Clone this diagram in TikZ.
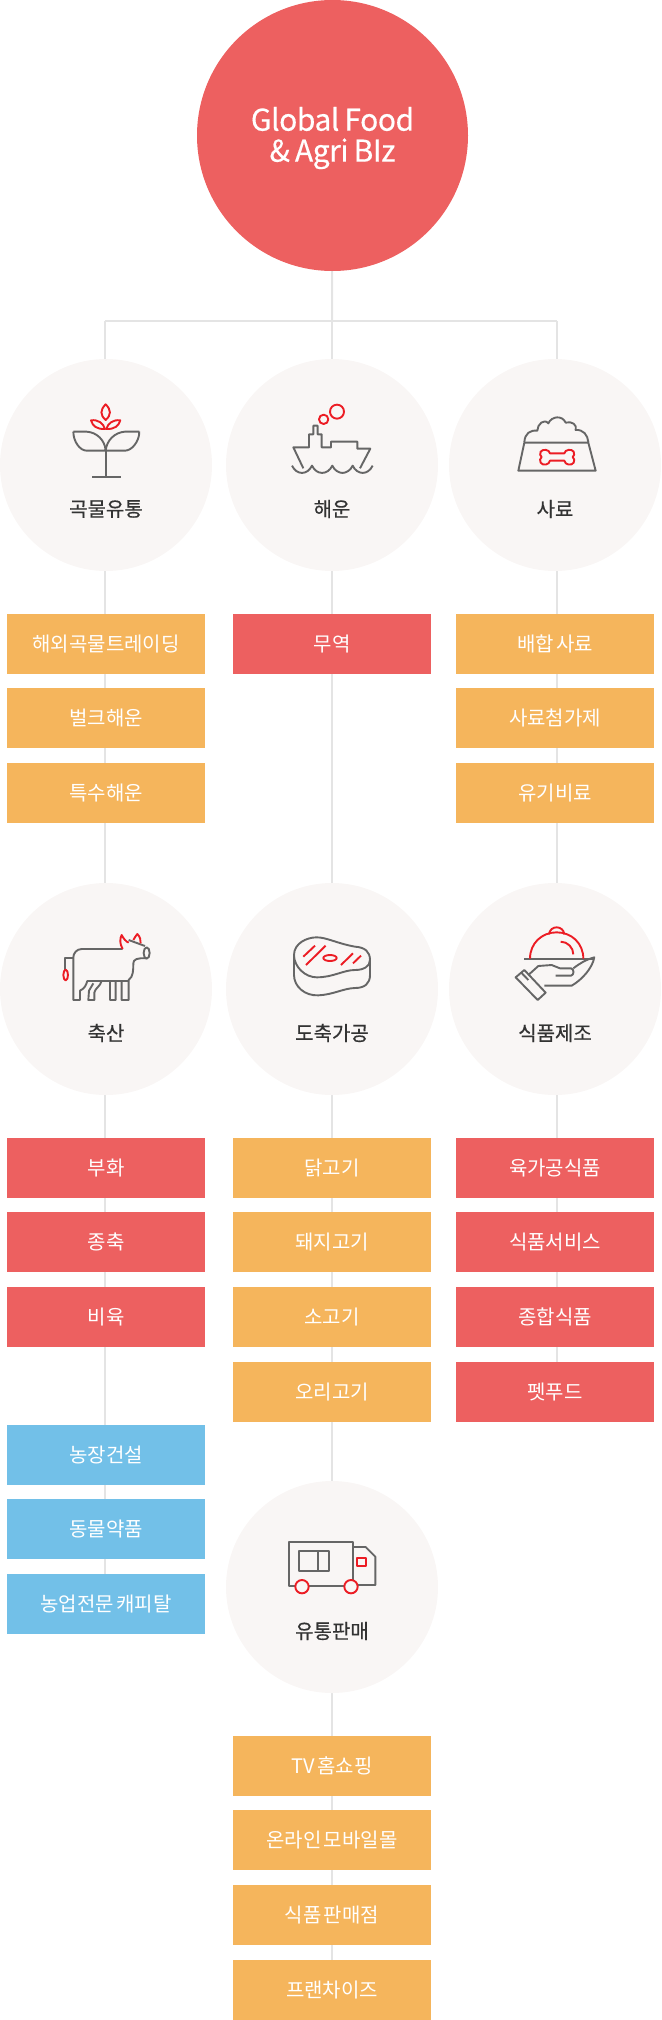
\documentclass[tikz,border=0pt]{standalone}
\usepackage{fontspec}
\setmainfont[WordSpace=0.5]{Noto Sans CJK KR}
\newfontfamily\labfont[FakeBold=0.5]{Noto Sans CJK KR}
\newfontfamily\rootfont[FakeBold=0.4, LetterSpace=-1.5, WordSpace=0.8]{Noto Sans CJK KR}
\usetikzlibrary{backgrounds}
\definecolor{redbox}{HTML}{ED6060}
\definecolor{orgbox}{HTML}{F5B55C}
\definecolor{blubox}{HTML}{72C0E8}
\definecolor{disc}{HTML}{F9F6F5}
\definecolor{wire}{HTML}{E4E4E4}
\definecolor{icogray}{HTML}{666666}
\definecolor{icored}{HTML}{EC1C24}
\tikzset{
  item/.style={minimum width=198pt, minimum height=60pt, inner sep=0pt, text=white, font=\fontsize{20}{20}\selectfont},
  disk/.style={circle, fill=disc, minimum size=212pt, inner sep=0pt},
  lab/.style={inner sep=0pt, text=black!80, font=\fontsize{20}{20}\selectfont\labfont},
  link/.style={wire, line width=2pt},
  ico/.style={icogray, line width=1.9pt, line join=round},
  icr/.style={icored, line width=1.9pt, line join=round},
  zoomed/.style={shift={#1}, x=0.3333pt, y=-0.3333pt}
}
\begin{document}
\begin{tikzpicture}[x=1pt, y=-1pt]
  \useasboundingbox (0,0) rectangle (661,2020);
  % root
  \node[circle, fill=redbox, minimum size=271pt, inner sep=0pt] (root) at (332.5,135.5) {};
  \node[inner sep=0pt, text=white, align=center, font=\fontsize{30}{31}\selectfont\rootfont] (rootlab) at (332.5,138) {Global Food\\\& Agri BIz};
  % six group discs with their labels
  \foreach \n/\x/\y/\t in {crop/106/465/곡물유통, ship/332/465/해운, feed/555/465/사료,
      stock/106/989/축산, meat/332/989/도축가공, food/555/989/식품제조, sale/332/1587/유통판매} {
    \node[disk] (\n) at (\x,\y) {};
    \node[lab] (\n lab) at (\x,\y+44) {\t};
  }
  % boxes under the discs
  \foreach \n/\x/\y/\c/\t in {
      a1/106/644/orgbox/해외곡물트레이딩, a2/106/718/orgbox/벌크해운, a3/106/793/orgbox/특수해운,
      b1/332/644/redbox/무역,
      c1/555/644/orgbox/배합 사료, c2/555/718/orgbox/사료첨가제, c3/555/793/orgbox/유기비료,
      d1/106/1168/redbox/부화, d2/106/1242/redbox/종축, d3/106/1317/redbox/비육,
      d4/106/1455/blubox/농장건설, d5/106/1529/blubox/동물약품, d6/106/1604/blubox/농업전문 캐피탈,
      e1/332/1168/orgbox/닭고기, e2/332/1242/orgbox/돼지고기, e3/332/1317/orgbox/소고기, e4/332/1392/orgbox/오리고기,
      f1/555/1168/redbox/육가공식품, f2/555/1242/redbox/식품서비스, f3/555/1317/redbox/종합식품, f4/555/1392/redbox/펫푸드,
      g1/332/1766/orgbox/TV 홈쇼핑, g2/332/1840/orgbox/온라인 모바일몰, g3/332/1915/orgbox/식품 판매점, g4/332/1990/orgbox/프랜차이즈} {
    \node[item, fill=\c] (\n) at (\x,\y) {\raisebox{-1pt}{\t}};
  }
  % tree behind everything
  \coordinate (jl) at (105,321);
  \coordinate (jm) at (332,321);
  \coordinate (jr) at (557,321);
  \begin{scope}[on background layer]
    \draw[link] (root) -- (jm);
    \draw[link] (jl) -- (jr);
    \draw[link] (jl) -- (jl |- d6.north);
    \draw[link] (jm) -- (g4);
    \draw[link] (jr) -- (jr |- f4.north);
  \end{scope}
  % plant
  \begin{scope}[zoomed={(50,390)}]
    \draw[ico] (167,180) -- (167,261) (127,261) -- (213,261);
    \draw[ico] (70,125) -- (110,125) .. controls (140,127) and (165,150) .. (167,182)
      -- (110,182) .. controls (90,182) and (70,155) .. (70,125);
    \draw[ico] (268,125) -- (225,125) .. controls (195,127) and (170,150) .. (167,182)
      (167,182) -- (225,182) .. controls (245,182) and (268,155) .. (268,125);
    \draw[icr] (167,43) .. controls (150,60) and (150,75) .. (167,90) .. controls (184,75) and (184,60) .. (167,43) -- cycle;
    \draw[icr] (123,91) .. controls (145,88) and (160,100) .. (165,117) .. controls (140,118) and (128,108) .. (123,91) -- cycle;
    \draw[icr] (211,91) .. controls (189,88) and (174,100) .. (169,117) .. controls (194,118) and (206,108) .. (211,91) -- cycle;
  \end{scope}
  % vessel
  \begin{scope}[zoomed={(280,390)}]
    \draw[ico] (70,235) -- (40,172) -- (87,172) -- (87,133) -- (100,133) -- (100,107) -- (113,107) -- (113,133)
      -- (125,133) -- (125,172) -- (153,172) -- (153,155) -- (232,155) -- (232,176) -- (271,176) -- (240,235);
    \draw[ico] (36,227) .. controls (50,256) and (82,256) .. (96,227) .. controls (110,256) and (143,256) .. (157,227)
      .. controls (171,256) and (204,256) .. (218,227) .. controls (232,256) and (264,256) .. (278,227);
    \draw[icr] (171,65) circle[radius=21];
    \draw[icr] (131,88) circle[radius=14];
  \end{scope}
  % bowl
  \begin{scope}[zoomed={(505,400)}]
    \draw[ico] (58,128) -- (40,212) -- (272,212) -- (250,128) -- cycle;
    \draw[ico] (58,126) .. controls (60,100) and (75,90) .. (97,92) .. controls (97,72) and (118,55) .. (130,70)
      .. controls (140,48) and (172,45) .. (182,68) .. controls (200,62) and (218,75) .. (212,90)
      .. controls (235,88) and (248,105) .. (250,126);
    \draw[icr] (135,160) -- (178,160) .. controls (180,148) and (200,146) .. (206,155) .. controls (210,162) and (207,168) .. (203,171)
      .. controls (208,175) and (210,182) .. (206,188) .. controls (200,198) and (180,195) .. (178,182)
      -- (135,182) .. controls (133,195) and (113,198) .. (107,188) .. controls (103,182) and (105,175) .. (110,171)
      .. controls (106,168) and (103,162) .. (107,155) .. controls (113,146) and (133,148) .. (135,160) -- cycle;
  \end{scope}
  % cow
  \begin{scope}[zoomed={(50,920)}]
    \draw[ico] (218,87) -- (95,87) .. controls (80,87) and (70,100) .. (70,112) -- (70,240) -- (90,240) -- (90,212)
      .. controls (105,205) and (108,195) .. (112,183) -- (236,183)
      (155,183) .. controls (150,200) and (135,205) .. (133,218) -- (133,240) -- (115,240) -- (117,212) -- (130,190)
      (180,183) -- (180,240) -- (197,240) -- (197,183)
      (215,183) -- (215,240) -- (236,240) -- (236,180) .. controls (250,170) and (250,150) .. (250,130)
      .. controls (250,118) and (262,113) .. (290,115)
      (236,60) -- (285,78);
    \draw[ico] (70,115) -- (46,115) -- (46,150);
    \draw[ico] (290,99) ellipse[x radius=9, y radius=17];
    \draw[icr] (47,165) ellipse[x radius=7, y radius=16];
    \draw[icr] (218,87) .. controls (208,70) and (210,55) .. (215,45) .. controls (220,55) and (228,65) .. (236,68);
    \draw[icr] (250,60) .. controls (255,52) and (258,46) .. (262,42) .. controls (270,50) and (273,60) .. (272,70);
  \end{scope}
  % meat
  \begin{scope}[zoomed={(280,920)}]
    \draw[ico] (42,105) .. controls (42,70) and (80,52) .. (110,52) .. controls (140,52) and (170,70) .. (225,80)
      .. controls (255,82) and (270,95) .. (270,120) .. controls (270,140) and (250,150) .. (225,150)
      .. controls (190,150) and (160,172) .. (110,172) .. controls (75,172) and (42,140) .. (42,105) -- cycle;
    \draw[ico] (42,105) -- (42,165) .. controls (42,200) and (75,228) .. (115,226) .. controls (160,224) and (190,205) .. (225,204)
      .. controls (255,204) and (270,190) .. (270,165) -- (270,120);
    \draw[icr] (70,110) -- (105,77) (78,135) -- (137,77) (183,135) -- (219,100) (219,130) -- (243,107);
    \draw[icr] (150,114) ellipse[x radius=20, y radius=9];
  \end{scope}
  % cloche and hand
  \begin{scope}[zoomed={(505,915)}]
    \draw[ico] (58,131) -- (268,131);
    \draw[icr] (75,131) .. controls (75,85) and (110,52) .. (155,52) .. controls (200,52) and (235,85) .. (235,131);
    \draw[icr] (132,58) .. controls (135,30) and (175,30) .. (178,58);
    \draw[icr] (167,80) .. controls (188,80) and (205,98) .. (205,118);
    \draw[ico] (32,187) -- (58,165) -- (122,233) -- (98,255) -- cycle (48,172) -- (70,195);
    \draw[ico] (70,180) -- (100,153) -- (140,150) -- (165,160) -- (198,160) .. controls (208,162) and (208,180) .. (198,182) -- (152,182);
    \draw[ico] (205,160) .. controls (225,145) and (240,135) .. (268,127) .. controls (262,160) and (230,195) .. (200,212) -- (118,212);
  \end{scope}
  % truck
  \begin{scope}[zoomed={(220,1480)}]
    \draw[ico] (208,185) rectangle (398,318);
    \draw[ico] (237,212) rectangle (326,274) (295,212) -- (295,274);
    \draw[ico] (398,201) -- (437,201) -- (466,230) -- (466,315) -- (414,315);
    \draw[icr] (410,234) rectangle (438,258);
    \draw[icr, fill=disc] (246,320) circle[radius=20];
    \draw[icr, fill=disc] (393,320) circle[radius=20];
  \end{scope}
\end{tikzpicture}
\end{document}
